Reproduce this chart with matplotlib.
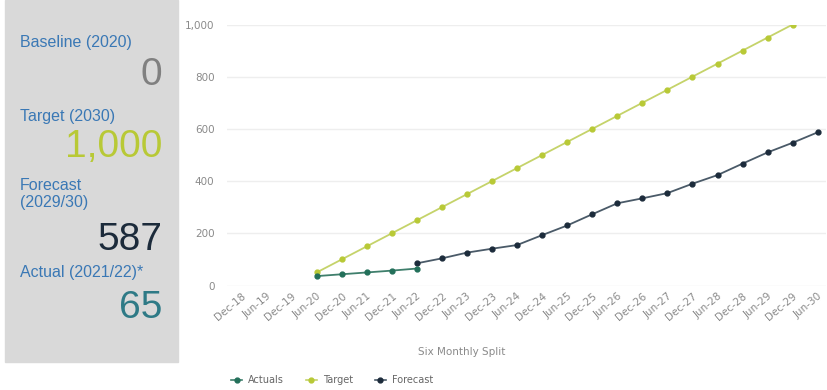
import matplotlib.pyplot as plt
from matplotlib.patches import Rectangle
from matplotlib.lines import Line2D

# Six monthly periods
periods = ['Dec-18', 'Jun-19', 'Dec-19', 'Jun-20', 'Dec-20', 'Jun-21', 'Dec-21', 'Jun-22',
           'Dec-22', 'Jun-23', 'Dec-23', 'Jun-24', 'Dec-24', 'Jun-25', 'Dec-25', 'Jun-26',
           'Dec-26', 'Jun-27', 'Dec-27', 'Jun-28', 'Dec-28', 'Jun-29', 'Dec-29', 'Jun-30']

actual_periods = ['Jun-20', 'Dec-20', 'Jun-21', 'Dec-21', 'Jun-22']
actual_values = [36, 43, 50, 57, 65]

target_periods = ['Jun-20', 'Dec-20', 'Jun-21', 'Dec-21', 'Jun-22', 'Dec-22', 'Jun-23',
                  'Dec-23', 'Jun-24', 'Dec-24', 'Jun-25', 'Dec-25', 'Jun-26', 'Dec-26',
                  'Jun-27', 'Dec-27', 'Jun-28', 'Dec-28', 'Jun-29', 'Dec-29']
target_values = [50, 100, 150, 200, 250, 300, 350, 400, 450, 500, 550, 600, 650, 700,
                 750, 800, 850, 900, 950, 1000]

forecast_periods = ['Jun-22', 'Dec-22', 'Jun-23', 'Dec-23', 'Jun-24', 'Dec-24', 'Jun-25',
                    'Dec-25', 'Jun-26', 'Dec-26', 'Jun-27', 'Dec-27', 'Jun-28', 'Dec-28',
                    'Jun-29', 'Dec-29', 'Jun-30']
forecast_values = [85, 104, 126, 141, 155, 193, 230, 273, 315, 334, 354, 390, 423, 467,
                   510, 547, 587]

# KPI panel
kpi_labels = ['Baseline (2020)', 'Target (2030)', 'Forecast\n(2029/30)', 'Actual (2021/22)*']
kpi_values = ['0', '1,000', '587', '65']

c_actual = '#23705a'
c_target = '#b8c936'
c_forecast = '#1c2b3b'
label_blue = '#3a78b5'

fig = plt.figure(figsize=(8.28, 3.9), dpi=100)

# grey KPI box
fig.patches.append(Rectangle((5 / 828, 1 - 362 / 390), 173 / 828, 362 / 390,
                             transform=fig.transFigure, color='#d9d9d9', zorder=0))
font = 'Liberation Sans'
label_y = [42, 116, 194, 272]
value_y = [75, 147, 240, 308]
value_colors = ['#808080', c_target, c_forecast, '#2e7a86']
for lab, ly, val, vy, vc in zip(kpi_labels, label_y, kpi_values, value_y, value_colors):
    fig.text(20 / 828, 1 - ly / 390, lab, fontsize=11.5, color=label_blue, family=font,
             va='center', ha='left', linespacing=1.1)
    fig.text(162 / 828, 1 - vy / 390, val, fontsize=28, color=vc, family=font,
             va='center', ha='right')

# line chart
ax = fig.add_axes([227 / 828, 1 - 285.5 / 390, 599 / 828, 261 / 390])
idx = {p: i for i, p in enumerate(periods)}

ax.plot([idx[p] for p in target_periods], target_values, color='#c5d36a', lw=1.3,
        marker='o', ms=3.5, mfc=c_target, mec=c_target, zorder=3)
ax.plot([idx[p] for p in forecast_periods], forecast_values, color='#4a5a68', lw=1.3,
        marker='o', ms=3.5, mfc=c_forecast, mec=c_forecast, zorder=3)
ax.plot([idx[p] for p in actual_periods], actual_values, color='#3f7f6c', lw=1.3,
        marker='o', ms=3.5, mfc=c_actual, mec=c_actual, zorder=4)

ax.set_xlim(-0.58, 23.33)
ax.set_ylim(0, 1000)
ax.set_yticks([0, 200, 400, 600, 800, 1000])
ax.set_yticklabels(['0', '200', '400', '600', '800', '1,000'])
ax.set_xticks(range(len(periods)))
ax.set_xticklabels(periods, rotation=40, ha='right', rotation_mode='anchor')
ax.tick_params(axis='both', length=0, labelsize=7.5, labelcolor='#8a8a8a')
ax.tick_params(axis='y', pad=9)
ax.tick_params(axis='x', pad=4)
ax.grid(axis='y', color='#eeeeee', lw=1)
ax.set_axisbelow(True)
for s in ax.spines.values():
    s.set_visible(False)

fig.text(462 / 828, 1 - 352 / 390, 'Six Monthly Split', fontsize=7.5, color='#8a8a8a',
         ha='center', va='center')

handles = [Line2D([], [], color='#3f7f6c', marker='o', ms=3.5, mfc=c_actual, mec=c_actual, lw=1.2),
           Line2D([], [], color='#c5d36a', marker='o', ms=3.5, mfc=c_target, mec=c_target, lw=1.2),
           Line2D([], [], color='#4a5a68', marker='o', ms=3.5, mfc=c_forecast, mec=c_forecast, lw=1.2)]
fig.legend(handles, ['Actuals', 'Target', 'Forecast'], loc='center left',
           bbox_to_anchor=(222 / 828, 1 - 380 / 390), ncol=3, frameon=False, fontsize=7,
           handlelength=1.2, handletextpad=0.6, columnspacing=2.2, labelcolor='#666666')

fig.savefig('out.png', dpi=100)
